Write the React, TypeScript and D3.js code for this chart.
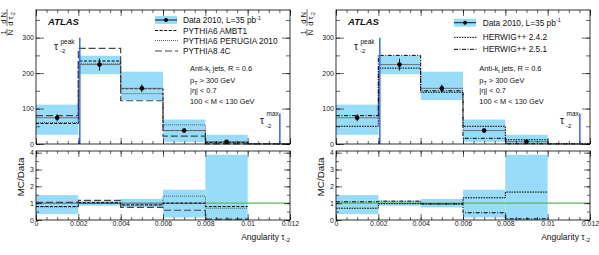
import React, { useEffect, useRef } from 'react';
import * as d3 from 'd3';

// bins of the angularity tau_-2
const binEdges = [0, 0.002, 0.004, 0.006, 0.008, 0.01, 0.012];
const xMajorTicks = [0, 0.002, 0.004, 0.006, 0.008, 0.01, 0.012];
const xTickLabels = ['0', '0.002', '0.004', '0.006', '0.008', '0.01', '0.012'];
const mainYTicks = [0, 100, 200, 300];
const ratioYTicks = [0, 1, 2, 3, 4];

// data 2010
const dataValues = [74, 224, 157, 38, 6.5, 0];
const dataErrors = [10, 17, 11, 6, 3, 0];
const bandLow = [26, 197, 124, 6, 0, 0];
const bandHigh = [111, 249, 204, 69, 26, 0];
const ratioBandLow = [0.35, 0.85, 0.75, 0.15, 0];
const ratioBandHigh = [1.48, 1.15, 1.25, 1.8, 3.88];

// tau peak / tau max markers
const tauMarkerX = [0.00207, 0.01152];
const tauMarkerTop = [300, 86];

// left panel: pythia
const ambt1 = [58, 234, 156, 38, 4.5, 0.3];
const perugia = [60, 226, 142, 54, 4, 0.4];
const pythia8 = [80, 270, 122, 22, 0.4, 0.1];
const ambt1Ratio = [0.8, 1.03, 0.9, 1.0, 0.8];
const perugiaRatio = [0.78, 0.98, 0.88, 1.42, 0.7];
const pythia8Ratio = [1.05, 1.17, 0.75, 0.58, 0.05];

// right panel: herwig
const herwig242 = [50, 214, 146, 50, 12, 0.5];
const herwig251 = [80, 250, 150, 16, 0.5, 0.1];
const herwig242Ratio = [0.7, 0.97, 0.95, 1.32, 1.66];
const herwig251Ratio = [1.08, 1.12, 0.96, 0.43, 0.07];

const FONT = 'Liberation Sans, Arial, Helvetica, sans-serif';
const BAND = '#99dcfa';
const BLUE = '#3a66f0';

const panels = [
  {
    ox: 36,
    legendY: [20, 30.5, 40.5, 51],
    swatchX: 155,
    textX: 183,
    infoX: 190,
    unityStart: 0.008,
    series: [
      { name: 'PYTHIA6 AMBT1', vals: ambt1, ratio: ambt1Ratio, dash: '3,1.6', width: 1, color: '#000' },
      { name: 'PYTHIA6 PERUGIA 2010', vals: perugia, ratio: perugiaRatio, dash: '1,1', width: 0.8, color: '#333' },
      { name: 'PYTHIA8 4C', vals: pythia8, ratio: pythia8Ratio, dash: '7,3', width: 1.2, color: '#444' },
    ],
  },
  {
    ox: 336,
    legendY: [22.7, 37.3, 49.3],
    swatchX: 454,
    textX: 482.7,
    infoX: 479.3,
    unityStart: 0,
    series: [
      { name: 'HERWIG++ 2.4.2', vals: herwig242, ratio: herwig242Ratio, dash: '1.6,1', width: 1, color: '#000' },
      { name: 'HERWIG++ 2.5.1', vals: herwig251, ratio: herwig251Ratio, dash: '4,1.5,1,1.5', width: 1, color: '#000' },
    ],
  },
];

const W = 254;
const mainTop = 10, mainBottom = 144;
const ratioTop = 151, ratioBottom = 220;

const App: React.FC = () => {
  const ref = useRef<SVGSVGElement | null>(null);

  useEffect(() => {
    if (!ref.current) return;
    const svg = d3.select(ref.current);
    svg.selectAll('*').remove();

    const yMain = d3.scaleLinear().domain([0, 378]).range([mainBottom, mainTop]);
    const yRatio = d3.scaleLinear().domain([0, 4.1]).range([ratioBottom, ratioTop]);

    panels.forEach(p => {
      const x = d3.scaleLinear().domain([0, 0.012]).range([p.ox, p.ox + W]);
      const g = svg.append('g');

      const step = (vals: number[], y: d3.ScaleLinear<number, number>) => {
        const pts: [number, number][] = vals.map((v, i) => [binEdges[i], v]);
        pts.push([binEdges[vals.length], vals[vals.length - 1]]);
        return d3.line<[number, number]>()
          .x(d => x(d[0]))
          .y(d => y(d[1]))
          .curve(d3.curveStepAfter)(pts);
      };

      // ---- main plot ----
      g.selectAll('.band')
        .data(bandHigh.map((h, i) => ({ h, l: bandLow[i], i })).filter(d => d.h > d.l))
        .enter().append('rect')
        .attr('x', d => x(binEdges[d.i]))
        .attr('width', d => x(binEdges[d.i + 1]) - x(binEdges[d.i]))
        .attr('y', d => yMain(d.h))
        .attr('height', d => yMain(d.l) - yMain(d.h))
        .attr('fill', BAND);

      p.series.forEach(s => {
        g.append('path')
          .attr('d', step(s.vals, yMain))
          .attr('fill', 'none')
          .attr('stroke', s.color)
          .attr('stroke-width', s.width)
          .attr('stroke-dasharray', s.dash);
      });

      // data: x-extent line, error bar, marker
      const pts = dataValues.map((v, i) => ({ v, e: dataErrors[i], i })).filter(d => d.v > 0);
      g.selectAll('.dline').data(pts).enter().append('line')
        .attr('x1', d => x(binEdges[d.i])).attr('x2', d => x(binEdges[d.i + 1]))
        .attr('y1', d => yMain(d.v)).attr('y2', d => yMain(d.v))
        .attr('stroke', '#666').attr('stroke-width', 0.9);
      g.selectAll('.derr').data(pts).enter().append('line')
        .attr('x1', d => x((binEdges[d.i] + binEdges[d.i + 1]) / 2))
        .attr('x2', d => x((binEdges[d.i] + binEdges[d.i + 1]) / 2))
        .attr('y1', d => yMain(d.v - d.e)).attr('y2', d => yMain(d.v + d.e))
        .attr('stroke', '#000').attr('stroke-width', 0.9);
      g.selectAll('.dot').data(pts).enter().append('circle')
        .attr('cx', d => x((binEdges[d.i] + binEdges[d.i + 1]) / 2))
        .attr('cy', d => yMain(d.v))
        .attr('r', 2.3).attr('fill', '#000');

      // tau peak / max lines
      tauMarkerX.forEach((tx, i) => {
        g.append('line')
          .attr('x1', x(tx)).attr('x2', x(tx))
          .attr('y1', yMain(0)).attr('y2', yMain(tauMarkerTop[i]))
          .attr('stroke', BLUE).attr('stroke-width', 1.5);
      });

      // ---- ratio plot ----
      g.selectAll('.rband')
        .data(ratioBandHigh.map((h, i) => ({ h, l: ratioBandLow[i], i })))
        .enter().append('rect')
        .attr('x', d => x(binEdges[d.i]))
        .attr('width', d => x(binEdges[d.i + 1]) - x(binEdges[d.i]))
        .attr('y', d => yRatio(d.h))
        .attr('height', d => yRatio(d.l) - yRatio(d.h))
        .attr('fill', BAND);

      if (p.unityStart > 0) {
        g.append('line')
          .attr('x1', x(0)).attr('x2', x(p.unityStart))
          .attr('y1', yRatio(1)).attr('y2', yRatio(1))
          .attr('stroke', '#444').attr('stroke-width', 0.8);
      }
      g.append('line')
        .attr('x1', x(p.unityStart)).attr('x2', x(0.012))
        .attr('y1', yRatio(1)).attr('y2', yRatio(1))
        .attr('stroke', '#5cb85c').attr('stroke-width', 1.2);

      p.series.forEach(s => {
        g.append('path')
          .attr('d', step(s.ratio, yRatio))
          .attr('fill', 'none')
          .attr('stroke', s.color)
          .attr('stroke-width', s.width)
          .attr('stroke-dasharray', s.dash);
      });

      // ---- frames and ticks ----
      const xMinor = d3.range(0, 0.01201, 0.0005);
      const styleAxis = (a: d3.Selection<SVGGElement, unknown, null, undefined>) => {
        a.select('.domain').remove();
        a.attr('font-size', 7).attr('font-family', FONT);
        a.selectAll('line').attr('stroke', '#000').attr('stroke-width', 0.6);
        a.selectAll('text').attr('fill', '#222');
      };
      const addX = (yPos: number, top: boolean, size: number, labels: boolean, values: number[]) => {
        const ax = (top ? d3.axisTop(x) : d3.axisBottom(x))
          .tickValues(values).tickSize(-size).tickPadding(1.5)
          .tickFormat((d, i) => (labels ? xTickLabels[i] : ''));
        g.append('g').attr('transform', `translate(0,${yPos})`).call(ax).call(styleAxis);
      };
      [[mainTop, true], [mainBottom, false], [ratioTop, true], [ratioBottom, false]].forEach(([yp, top]) => {
        addX(yp as number, top as boolean, 3, false, xMinor);
        addX(yp as number, top as boolean, 6, !top && yp === ratioBottom, xMajorTicks);
      });

      const addY = (
        y: d3.ScaleLinear<number, number>, values: number[], minor: number[], major: number, minorLen: number,
      ) => {
        g.append('g').attr('transform', `translate(${p.ox},0)`)
          .call(d3.axisLeft(y).tickValues(values).tickSize(-major).tickPadding(2).tickFormat(d3.format('d')))
          .call(styleAxis);
        g.append('g').attr('transform', `translate(${p.ox},0)`)
          .call(d3.axisLeft(y).tickValues(minor).tickSize(-minorLen).tickFormat(() => ''))
          .call(styleAxis);
        g.append('g').attr('transform', `translate(${p.ox + W},0)`)
          .call(d3.axisRight(y).tickValues(values).tickSize(-major).tickFormat(() => ''))
          .call(styleAxis);
        g.append('g').attr('transform', `translate(${p.ox + W},0)`)
          .call(d3.axisRight(y).tickValues(minor).tickSize(-minorLen).tickFormat(() => ''))
          .call(styleAxis);
      };
      addY(yMain, mainYTicks, d3.range(0, 376, 50), 8, 4);
      addY(yRatio, ratioYTicks, d3.range(0, 4.01, 0.5), 6, 3);

      [[mainTop, mainBottom], [ratioTop, ratioBottom]].forEach(([t, b]) => {
        g.append('rect')
          .attr('x', p.ox).attr('y', t).attr('width', W).attr('height', b - t)
          .attr('fill', 'none').attr('stroke', '#000').attr('stroke-width', 0.8);
      });

      // ---- texts ----
      const txt = (xp: number, yp: number, size: number, s: string) =>
        g.append('text').attr('x', xp).attr('y', yp).attr('font-size', size)
          .attr('font-family', FONT).attr('fill', '#111').text(s);

      txt(p.ox + 12, 25, 9.5, 'ATLAS').attr('font-weight', 'bold').attr('font-style', 'italic');

      // tau labels
      txt(p.ox + 18, 49.5, 10, 'τ');
      txt(p.ox + 24.5, 43.5, 6.5, 'peak');
      txt(p.ox + 24, 53, 6, '-2');
      txt(p.ox + 224, 124, 10, 'τ');
      txt(p.ox + 230.5, 115.5, 6.5, 'max');
      txt(p.ox + 230, 127.5, 6, '-2');

      // legend
      const ly0 = p.legendY[0];
      g.append('rect').attr('x', p.swatchX).attr('y', ly0 - 4).attr('width', 22).attr('height', 8).attr('fill', BAND);
      g.append('line').attr('x1', p.swatchX).attr('x2', p.swatchX + 22).attr('y1', ly0).attr('y2', ly0)
        .attr('stroke', '#000').attr('stroke-width', 0.9);
      g.append('circle').attr('cx', p.swatchX + 11).attr('cy', ly0).attr('r', 2).attr('fill', '#000');
      const dt = txt(p.textX, ly0 + 3, 8.3, 'Data 2010, L=35 pb');
      dt.append('tspan').attr('dy', -3.5).attr('font-size', 5.5).text('-1');

      p.series.forEach((s, i) => {
        const ly = p.legendY[i + 1];
        g.append('line').attr('x1', p.swatchX).attr('x2', p.swatchX + 23).attr('y1', ly).attr('y2', ly)
          .attr('stroke', s.color).attr('stroke-width', s.width).attr('stroke-dasharray', s.dash);
        txt(p.textX, ly + 3, 8.3, s.name);
      });

      // selection info
      const info1 = txt(p.infoX, 71, 7.4, 'Anti-k');
      info1.append('tspan').attr('dy', 2).attr('font-size', 5.5).text('t');
      info1.append('tspan').attr('dy', -2).text(' jets, R = 0.6');
      const info2 = txt(p.infoX, 82.5, 7.4, 'p');
      info2.append('tspan').attr('dy', 2).attr('font-size', 5.5).text('T');
      info2.append('tspan').attr('dy', -2).text(' > 300 GeV');
      txt(p.infoX, 93, 7.4, '|η| < 0.7');
      txt(p.infoX, 103.5, 7.4, '100 < M < 130 GeV');

      // axis titles
      const at = txt(p.ox + W, 239.5, 8.5, 'Angularity τ').attr('text-anchor', 'end');
      at.append('tspan').attr('dy', 2).attr('font-size', 6).text('-2');

      g.append('text')
        .attr('transform', `translate(${p.ox - 12},177) rotate(-90)`)
        .attr('text-anchor', 'middle').attr('font-size', 9.8).attr('font-family', FONT)
        .attr('fill', '#111').text('MC/Data');

      // 1/N dN/dtau
      const yl = g.append('g').attr('transform', `translate(${p.ox - 36},0)`);
      const rot = (sx: number, sy: number, size: number, s: string) =>
        yl.append('text').attr('transform', `translate(${sx},${sy}) rotate(-90)`)
          .attr('text-anchor', 'middle').attr('font-size', size).attr('font-family', FONT)
          .attr('fill', '#111').text(s);
      rot(5.5, 32.5, 7.5, '1');
      rot(13, 32.5, 7.5, 'N');
      rot(5.5, 18, 7.5, 'd N');
      const den = rot(13, 19, 7.5, 'd τ');
      den.append('tspan').attr('dy', 1.5).attr('font-size', 5).text('-2');
      yl.append('line').attr('x1', 7).attr('x2', 7).attr('y1', 29).attr('y2', 36)
        .attr('stroke', '#111').attr('stroke-width', 0.6);
      yl.append('line').attr('x1', 7).attr('x2', 7).attr('y1', 9).attr('y2', 26)
        .attr('stroke', '#111').attr('stroke-width', 0.6);
    });
  }, []);

  return (
    <svg
      ref={ref}
      width={599}
      height={255}
      style={{ position: 'absolute', left: 0, top: 0, background: '#fff' }}
    />
  );
};

export default App;
